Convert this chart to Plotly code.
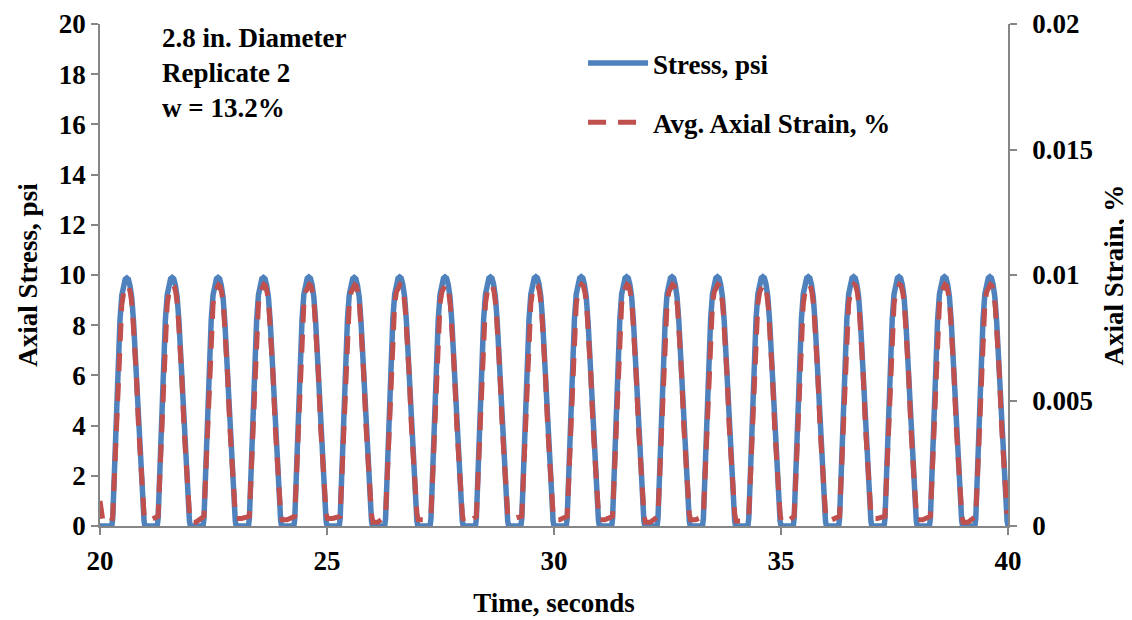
import plotly.graph_objects as go

# ---- data ----
peak_times = [20.59, 21.59, 22.60, 23.60, 24.60, 25.60, 26.60, 27.60, 28.60, 29.60,
              30.60, 31.60, 32.60, 33.60, 34.60, 35.60, 36.60, 37.60, 38.60, 39.60]
stress_peaks = [9.88, 9.90, 9.90, 9.90, 9.92, 9.90, 9.92, 9.92, 9.92, 9.93,
                9.93, 9.93, 9.93, 9.93, 9.93, 9.93, 9.93, 9.93, 9.93, 9.93]
strain_peaks = [0.00958, 0.00960, 0.00960, 0.00962, 0.00962, 0.00960, 0.00962, 0.00962, 0.00962, 0.00964,
                0.00962, 0.00962, 0.00962, 0.00962, 0.00962, 0.00962, 0.00962, 0.00962, 0.00962, 0.00962]
strain_tails = [0.00025, 0.00015, 0.00030, 0.00025, 0.00030, 0.00015, 0.00025, 0.00015, 0.00030, 0.00025,
                0.00025, 0.00015, 0.00025, 0.00020, 0.00015, 0.00025, 0.00030, 0.00025, 0.00015, 0.00050]

# pulse profile (time offset from peak, fraction of peak) read from one cycle
stress_offsets = [-0.33, -0.31, -0.29, -0.27, -0.24, -0.21, -0.18, -0.15, -0.11, -0.07,
                  -0.035, 0.0, 0.035, 0.07, 0.11, 0.15, 0.20, 0.25, 0.30, 0.34, 0.38, 0.40]
stress_shape = [0.0, 0.03, 0.15, 0.28, 0.44, 0.58, 0.72, 0.83, 0.93, 0.975,
                0.995, 1.0, 0.995, 0.97, 0.92, 0.82, 0.64, 0.41, 0.22, 0.10, 0.02, 0.0]
strain_offsets = [-0.31, -0.29, -0.27, -0.24, -0.21, -0.18, -0.15, -0.11, -0.07,
                  -0.025, 0.01, 0.045, 0.08, 0.12, 0.16, 0.21, 0.26, 0.31, 0.35, 0.38]
strain_shape = [0.04, 0.13, 0.27, 0.43, 0.57, 0.71, 0.82, 0.92, 0.97,
                0.995, 1.0, 0.995, 0.97, 0.91, 0.81, 0.63, 0.41, 0.22, 0.10, 0.05]
tail_offsets = [0.41, 0.52]
lead_time = [20.0, 20.03, 20.06, 20.12, 20.25]
lead_strain = [0.00100, 0.00048, 0.00025, 0.00015, 0.00015]

x_start, x_end = 20, 40

# ---- build series ----
t_stress, stress = [x_start], [0.0]
for pt, pk in zip(peak_times, stress_peaks):
    for o, s in zip(stress_offsets, stress_shape):
        t_stress.append(pt + o)
        stress.append(pk * s)

t_strain, strain = list(lead_time), list(lead_strain)
for i, (pt, pk) in enumerate(zip(peak_times, strain_peaks)):
    for o, s in zip(strain_offsets, strain_shape):
        t_strain.append(pt + o)
        strain.append(pk * s)
    for o in tail_offsets:
        if pt + o <= x_end:
            t_strain.append(pt + o)
            strain.append(strain_tails[i])
t_strain, strain = zip(*[(t, v) for t, v in zip(t_strain, strain) if t <= x_end + 0.02])

FONT = "'Times New Roman', 'Liberation Serif', serif"
GRAY = "#868686"
FS = 27

fig = go.Figure()
fig.add_trace(go.Scatter(
    x=t_stress, y=stress, mode="lines", name="<b>Stress, psi</b>",
    line=dict(color="#4F81BD", width=5.5), legendgroup="a", yaxis="y"))
fig.add_trace(go.Scatter(
    x=list(t_strain), y=list(strain), mode="lines", name="<b>Avg. Axial Strain, %</b>",
    line=dict(color="#C0504D", width=5, dash="18px,12px"), legendgroup="b", yaxis="y2"))

axis_font = dict(family=FONT, size=FS, color="black")
common = dict(showgrid=False, zeroline=False, showline=True, linecolor=GRAY, linewidth=1.5,
              ticks="outside", ticklen=7, tickcolor=GRAY, tickwidth=1.5, tickfont=axis_font,
              tickprefix="<b>", ticksuffix="</b>", ticklabeloverflow="allow", automargin=False)
fig.update_layout(
    width=1132, height=620,
    margin=dict(l=92, r=132, t=16, b=102),
    paper_bgcolor="white", plot_bgcolor="white",
    font=dict(family=FONT, size=FS, color="black"),
    showlegend=True,
    legend=dict(x=0.532, y=0.97, xanchor="left", yanchor="top",
                bgcolor="rgba(0,0,0,0)", font=dict(family=FONT, size=FS),
                traceorder="grouped", tracegroupgap=21, itemwidth=60),
    xaxis=dict(range=[x_start, x_end], dtick=5, tick0=20, ticklabelstandoff=3,
               title=dict(text="<b>Time, seconds</b>", font=axis_font, standoff=18), **common),
    yaxis=dict(range=[0, 20], dtick=2,
               title=dict(text="<b>Axial Stress, psi</b>", font=axis_font, standoff=13), **common),
    yaxis2=dict(range=[0, 0.02], dtick=0.005, overlaying="y", side="right",
                ticklabelstandoff=10,
                title=dict(text="<b>Axial Strain, %</b>", font=axis_font, standoff=12), **common),
    annotations=[dict(
        x=0.066, y=1.006, xref="paper", yref="paper", xanchor="left", yanchor="top",
        align="left", showarrow=False,
        text="<b>2.8 in. Diameter<br>Replicate 2<br>w = 13.2%</b>",
        font=dict(family=FONT, size=FS, color="black"))],
)

fig.write_html("out.html")
